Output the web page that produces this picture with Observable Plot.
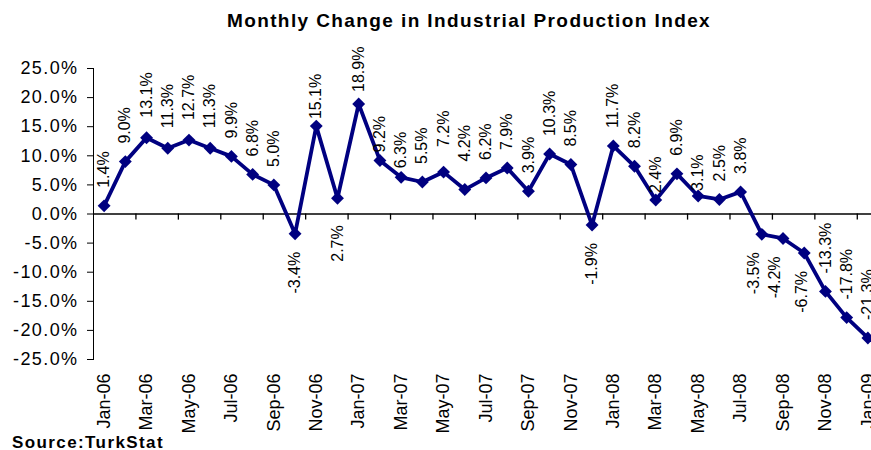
<!DOCTYPE html>
<html><head><meta charset="utf-8">
<script src="https://cdn.jsdelivr.net/npm/d3@7"></script>
<script src="https://cdn.jsdelivr.net/npm/@observablehq/plot@0.6"></script>
<style>
html,body{margin:0;padding:0;background:#fff;}
#wrap{position:relative;width:871px;height:450px;overflow:hidden;font-family:"Liberation Sans",Arial,sans-serif;color:#000;}
#title{position:absolute;top:11px;left:469px;transform:translateX(-50%);white-space:nowrap;font-weight:bold;font-size:19px;line-height:19px;letter-spacing:1.4px;}
#source{position:absolute;left:12px;top:434px;font-weight:bold;font-size:17px;line-height:17px;letter-spacing:1.4px;white-space:nowrap;}
#chart{position:absolute;left:0;top:0;}
</style></head><body>
<div id="wrap"><div id="chart"></div><div id="title">Monthly Change in Industrial Production Index</div><div id="source">Source:TurkStat</div></div>
<script>
const months = ["Jan-06","Feb-06","Mar-06","Apr-06","May-06","Jun-06","Jul-06","Aug-06","Sep-06","Oct-06","Nov-06","Dec-06",
  "Jan-07","Feb-07","Mar-07","Apr-07","May-07","Jun-07","Jul-07","Aug-07","Sep-07","Oct-07","Nov-07","Dec-07",
  "Jan-08","Feb-08","Mar-08","Apr-08","May-08","Jun-08","Jul-08","Aug-08","Sep-08","Oct-08","Nov-08","Dec-08",
  "Jan-09"];
const values = [1.4, 9.0, 13.1, 11.3, 12.7, 11.3, 9.9, 6.8, 5.0, -3.4, 15.1, 2.7,
  18.9, 9.2, 6.3, 5.5, 7.2, 4.2, 6.2, 7.9, 3.9, 10.3, 8.5, -1.9,
  11.7, 8.2, 2.4, 6.9, 3.1, 2.5, 3.8, -3.5, -4.2, -6.7, -13.3, -17.8,
  -21.3];
const yTicks = [-25, -20, -15, -10, -5, 0, 5, 10, 15, 20, 25];

// label placement (style): which labels sit below their point, and pixel gaps/shifts
const labelsBelow = ["Oct-06", "Dec-06", "Dec-07", "Aug-08", "Sep-08", "Oct-08"];
const defaultGap = 18;
const gapOverrides = {"Nov-06": 7, "Dec-06": 27, "Jan-07": 12, "Feb-07": 8, "Mar-07": 9,
  "May-07": 25, "Jun-07": 28, "Mar-08": 7, "May-08": 5, "Apr-06": 20, "Jun-06": 20, "Mar-06": 20, "May-06": 20};
const shiftOverrides = {"Aug-08": -8, "Sep-08": -8, "Oct-08": -2};

const data = months.map((m, i) => ({i, month: m, value: values[i], below: labelsBelow.includes(m),
  gap: gapOverrides[m] ?? defaultGap, shift: shiftOverrides[m] ?? 0}));
const boundaries = d3.range(1.5, months.length, 2);
const fmt = d => d.toFixed(1) + "%";

const groups = d3.groups(data, d => `${d.below}|${d.gap}|${d.shift}`);
const labelMarks = groups.map(([, g]) => {
  const {below, gap, shift} = g[0];
  return Plot.text(g, {x: "i", y: "value", text: d => fmt(d.value), rotate: -90,
    textAnchor: below ? "end" : "start", dy: below ? gap : -gap, dx: shift, fontSize: 16, fill: "#000"});
});

const plot = Plot.plot({
  width: 890, height: 450,
  marginLeft: 93, marginRight: 12, marginTop: 68, marginBottom: 91,
  style: {fontFamily: '"Liberation Sans", Arial, sans-serif', fontSize: "18px", color: "#000", background: "transparent", maxWidth: "none"},
  x: {domain: [-0.5, months.length - 0.5], ticks: d3.range(0, months.length, 2), tickFormat: i => months[i],
      tickRotate: -90, tickSize: 0, tickPadding: 14, label: null},
  y: {domain: [-25, 25], ticks: yTicks, tickFormat: fmt, tickSize: 6, tickPadding: 9, label: null, line: true},
  marks: [
    Plot.ruleY([0], {stroke: "#000", strokeWidth: 1.3}),
    Plot.ruleX(boundaries, {x: d => d, y1: 0, y2: -1.05, stroke: "#000", strokeWidth: 1.3}),
    Plot.line(data, {x: "i", y: "value", stroke: "#000080", strokeWidth: 3.8}),
    Plot.dot(data, {x: "i", y: "value", symbol: d3.symbolDiamond2, r: 5.8, fill: "#000080", stroke: "none"}),
    ...labelMarks
  ]
});
plot.style.maxWidth = "none";
plot.querySelectorAll('[aria-label^="y-axis"] text').forEach(t => t.style.letterSpacing = "1.4px");
document.getElementById("chart").appendChild(plot);
</script>
</body></html>
